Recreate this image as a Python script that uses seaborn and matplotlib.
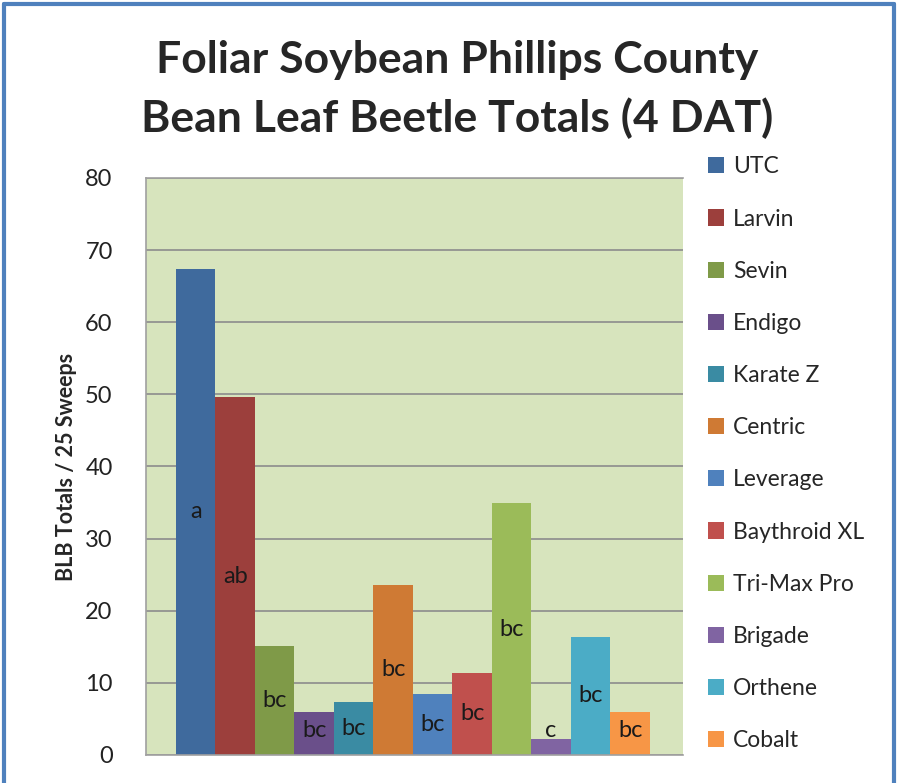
import matplotlib
matplotlib.use("Agg")
import matplotlib.pyplot as plt
import seaborn as sns
import pandas as pd
from matplotlib.patches import Patch
from matplotlib.lines import Line2D

# 数据
treatments = ['UTC', 'Larvin', 'Sevin', 'Endigo', 'Karate Z', 'Centric',
              'Leverage', 'Baythroid XL', 'Tri-Max Pro', 'Brigade', 'Orthene', 'Cobalt']
blb_totals = [67.4, 49.6, 15.1, 6.0, 7.3, 23.6, 8.4, 11.4, 34.9, 2.2, 16.4, 6.0]
letters = ['a', 'ab', 'bc', 'bc', 'bc', 'bc', 'bc', 'bc', 'bc', 'c', 'bc', 'bc']
colors = ['#3F6A9D', '#9C3F3C', '#7F9A48', '#6A4F8A', '#3A8BA3', '#CF7A34',
          '#4F81BD', '#C0504D', '#9BBB59', '#8064A2', '#4BACC6', '#F79646']

df = pd.DataFrame({'treatment': treatments, 'blb': blb_totals})

sns.set_style('white')
plt.rcParams['font.family'] = ['Lato', 'DejaVu Sans']

fig = plt.figure(figsize=(8.99, 7.83), dpi=100)
ax = fig.add_axes([0.1624, 0.0358, 0.5973, 0.7369])
ax.set_facecolor('#D7E4BD')

sns.barplot(data=df, x='treatment', y='blb', hue='treatment', palette=colors,
            width=1.0, saturation=1, legend=False, ax=ax, linewidth=0)

# 柱内字母标注
for i, (v, lab) in enumerate(zip(blb_totals, letters)):
    ax.text(i, max(v / 2, 3.4), lab, ha='center', va='center', fontsize=17, color='#1a1a1a')

ax.set_ylim(0, 80)
ax.set_yticks(range(0, 81, 10))
ax.set_xlim(-1.26, 12.34)
ax.set_xticks([])
ax.set_xlabel('')
ax.set_ylabel('BLB Totals / 25 Sweeps', fontsize=15.5, fontweight='bold', labelpad=6)
ax.tick_params(axis='y', labelsize=17, length=0, pad=24, colors='#222222')
ax.yaxis.grid(True, color='#8C8C8C', linewidth=1.2)
ax.set_axisbelow(True)
for side in ['left', 'bottom', 'top']:
    ax.spines[side].set_color('#A0A0A0')
    ax.spines[side].set_linewidth(1.2)
ax.spines['right'].set_visible(False)

# 图例
handles = [Patch(facecolor=c, edgecolor='none') for c in colors]
fig.legend(handles, treatments, loc='upper left', bbox_to_anchor=(0.777, 0.812),
           frameon=False, fontsize=16.5, handlelength=0.7, handleheight=0.7,
           handletextpad=0.4, labelspacing=1.36, borderaxespad=0)

# 标题
fig.text(0.508, 0.923, 'Foliar Soybean Phillips County', ha='center', va='center',
         fontsize=32, fontweight='bold')
fig.text(0.508, 0.849, 'Bean Leaf Beetle Totals (4 DAT)', ha='center', va='center',
         fontsize=32, fontweight='bold')

# 外框
frame_color = '#4F81BD'
fig.add_artist(Line2D([0.005, 0.005], [0, 0.995], transform=fig.transFigure, color=frame_color, lw=3))
fig.add_artist(Line2D([0.005, 0.994], [0.995, 0.995], transform=fig.transFigure, color=frame_color, lw=3))
fig.add_artist(Line2D([0.994, 0.994], [0, 0.995], transform=fig.transFigure, color=frame_color, lw=3))

fig.savefig('out.png', dpi=100)
